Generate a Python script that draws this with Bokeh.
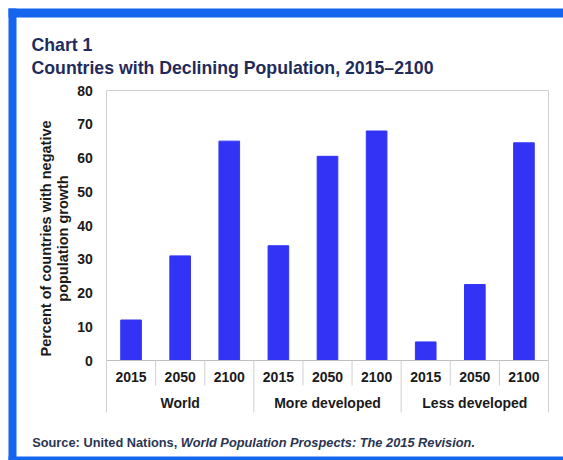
import math
from bokeh.plotting import figure
from bokeh.models import Range1d, BoxAnnotation
from bokeh.core.properties import value
from bokeh.embed import file_html
from bokeh.resources import INLINE

# ---- data ----
groups = ["World", "More developed", "Less developed"]
years = ["2015", "2050", "2100"]
world = [12, 31, 65]
more_developed = [34, 60.5, 68]
less_developed = [5.5, 22.5, 64.5]
y_ticks = [0, 10, 20, 30, 40, 50, 60, 70, 80]

counts = world + more_developed + less_developed
year_labels = years * len(groups)
n = len(counts)
x_pos = [i + 0.5 for i in range(n)]                       # category centres
group_pos = [len(years) * (g + 0.5) for g in range(len(groups))]

FONT = value("Liberation Sans")
BAR = "#3333F5"
NAVY = "#1F2B5B"
DARK = "#1a1a1a"
SRC = "#2B3550"
BLUE_FRAME = "#1565EF"
GRAY = "#D0D0D0"

W, H = 563, 460
PL, PR, PT, P0, PB = 106, 548, 90, 360, 412   # plot area in px
Y_TOP = 80
PX_PER_Y = (P0 - PT) / Y_TOP
PX_PER_X = (PR - PL) / n


def xd(px):
    return (px - PL) / PX_PER_X


def yd(py):
    return (P0 - py) / PX_PER_Y


p = figure(width=W, height=H,
           x_range=Range1d(xd(0), xd(W)), y_range=Range1d(yd(H), yd(0)),
           output_backend="svg", toolbar_location=None,
           x_axis_location=None, y_axis_location=None,
           min_border=0)
p.background_fill_color = "white"
p.border_fill_color = "white"
p.outline_line_color = None
p.grid.visible = False

# bars
p.vbar(x=x_pos, top=counts, width=0.42, fill_color=BAR, line_color=BAR)

# plot-area box and axis line
p.segment(x0=[0], y0=[Y_TOP], x1=[n], y1=[Y_TOP], line_color=GRAY, line_width=1)
p.segment(x0=[0], y0=[0], x1=[n], y1=[0], line_color="#BFBFBF", line_width=1)
p.segment(x0=[0, n], y0=[Y_TOP, Y_TOP], x1=[0, n], y1=[yd(PB)] * 2,
          line_color=GRAY, line_width=1)

# separators below the axis
sep_year = [i for i in range(1, n) if i % len(years) != 0]
sep_group = [i for i in range(1, n) if i % len(years) == 0]
p.segment(x0=sep_year, y0=[0] * len(sep_year), x1=sep_year,
          y1=[yd(385)] * len(sep_year), line_color=GRAY, line_width=1)
p.segment(x0=sep_group, y0=[0] * len(sep_group), x1=sep_group,
          y1=[yd(PB)] * len(sep_group), line_color=GRAY, line_width=1)

common = dict(text_font=FONT, text_font_style="bold", text_color=DARK)

# category labels
p.text(x=x_pos, y=[yd(376)] * n, text=year_labels, text_align="center",
       text_baseline="middle", text_font_size="14px", **common)
p.text(x=group_pos, y=[yd(402.5)] * len(groups), text=groups, text_align="center",
       text_baseline="middle", text_font_size="14px", **common)

# y tick labels
p.text(x=[xd(92.3)] * len(y_ticks), y=y_ticks, text=[str(t) for t in y_ticks],
       text_align="right", text_baseline="middle", text_font_size="14px", **common)

# y-axis title (two lines)
p.text(x=[xd(45.7), xd(62.3)], y=[yd(238)] * 2,
       text=["Percent of countries with negative", "population growth"],
       angle=math.pi / 2, text_align="center", text_baseline="alphabetic",
       text_font_size="14.5px", **common)

# titles
p.text(x=[xd(31)] * 2, y=[yd(44), yd(67)],
       text=["Chart 1", "Countries with Declining Population, 2015\u20132100"],
       text_align="left", text_baseline="alphabetic", text_font=FONT,
       text_font_style="bold", text_font_size="17.7px", text_color=NAVY)

# source
p.text(x=[xd(31.7)], y=[yd(442)], text=["Source: United Nations, "],
       text_align="left", text_baseline="alphabetic", text_font=FONT,
       text_font_style="bold", text_font_size="12.8px", text_color=SRC)
p.text(x=[xd(180.3)], y=[yd(442)],
       text=["World Population Prospects: The 2015 Revision."],
       text_align="left", text_baseline="alphabetic", text_font=FONT,
       text_font_style="bold italic", text_font_size="12.8px", text_color=SRC)

# blue frame
for l, r, t, b in [(8, 16, 8, H), (8, W, 8, 17), (8, W, 456, H)]:
    p.add_layout(BoxAnnotation(left=xd(l), right=xd(r), top=yd(t), bottom=yd(b),
                               fill_color=BLUE_FRAME, fill_alpha=1, line_color=None))

open("out.html", "w").write(file_html(p, INLINE))
